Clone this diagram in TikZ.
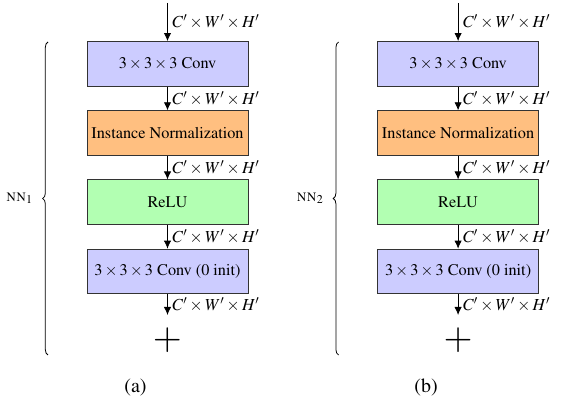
\documentclass[tikz,border=0pt]{standalone}
\usepackage[T1]{fontenc}
\usepackage{mathptmx}
\usetikzlibrary{arrows.meta,decorations.pathreplacing}
\begin{document}
\begin{tikzpicture}[x=0.75pt,y=-0.75pt,
  blk/.style={draw=black!80,line width=0.6pt,minimum width=120.75pt,minimum height=33.6pt,inner sep=0pt,font=\fontsize{12.2}{14}\selectfont},
  convc/.style={blk,fill=blue!20},
  normc/.style={blk,fill=orange!50},
  reluc/.style={blk,fill=green!30},
  flow/.style={-{Latex[length=6pt,width=5.5pt]},line width=0.6pt},
  dimlab/.style={right,inner sep=3.5pt,font=\fontsize{12.6}{14}\selectfont},
  brc/.style={decorate,decoration={brace,amplitude=4pt},line width=0.6pt}]
\useasboundingbox (0,0) rectangle (562,402);
\foreach \p/\dx/\lab/\nn in {a/0/(a)/1, b/290.6/(b)/2}{
  \begin{scope}[xshift=\dx*0.75pt]
    \coordinate (in\p) at (167.5,3);
    \node[convc] (c1\p) at (167.5,63.9) {$3\times3\times3$ Conv};
    \node[normc] (n\p) at (167.5,133.1) {Instance Normalization};
    \node[reluc] (r\p) at (167.5,202.3) {ReLU};
    \node[convc] (c2\p) at (167.5,271.5) {$3\times3\times3$ Conv (0 init)};
    \coordinate (out\p) at (167.5,315);
    \node[font=\fontsize{28}{30}\selectfont,inner sep=0pt] (plus\p) at (167.5,340.5) {$+$};
    \draw[flow] (in\p) -- node[dimlab]{$C'\times W'\times H'$} (c1\p);
    \draw[flow] (c1\p) -- node[dimlab]{$C'\times W'\times H'$} (n\p);
    \draw[flow] (n\p) -- node[dimlab]{$C'\times W'\times H'$} (r\p);
    \draw[flow] (r\p) -- node[dimlab]{$C'\times W'\times H'$} (c2\p);
    \draw[flow] (c2\p) -- node[dimlab]{$C'\times W'\times H'$} (out\p);
    \coordinate (bb\p) at (48,355);
    \coordinate (bt\p) at (48,42);
    \draw[brc] (bb\p) -- (bt\p);
    \node[font=\fontsize{12}{14}\selectfont] (nn\p) at (19.5,198.5) {\textsc{nn}$_{\nn}$};
    \node[font=\fontsize{15}{17}\selectfont] (cap\p) at (135.5,388) {\lab};
  \end{scope}
}
\end{tikzpicture}
\end{document}
